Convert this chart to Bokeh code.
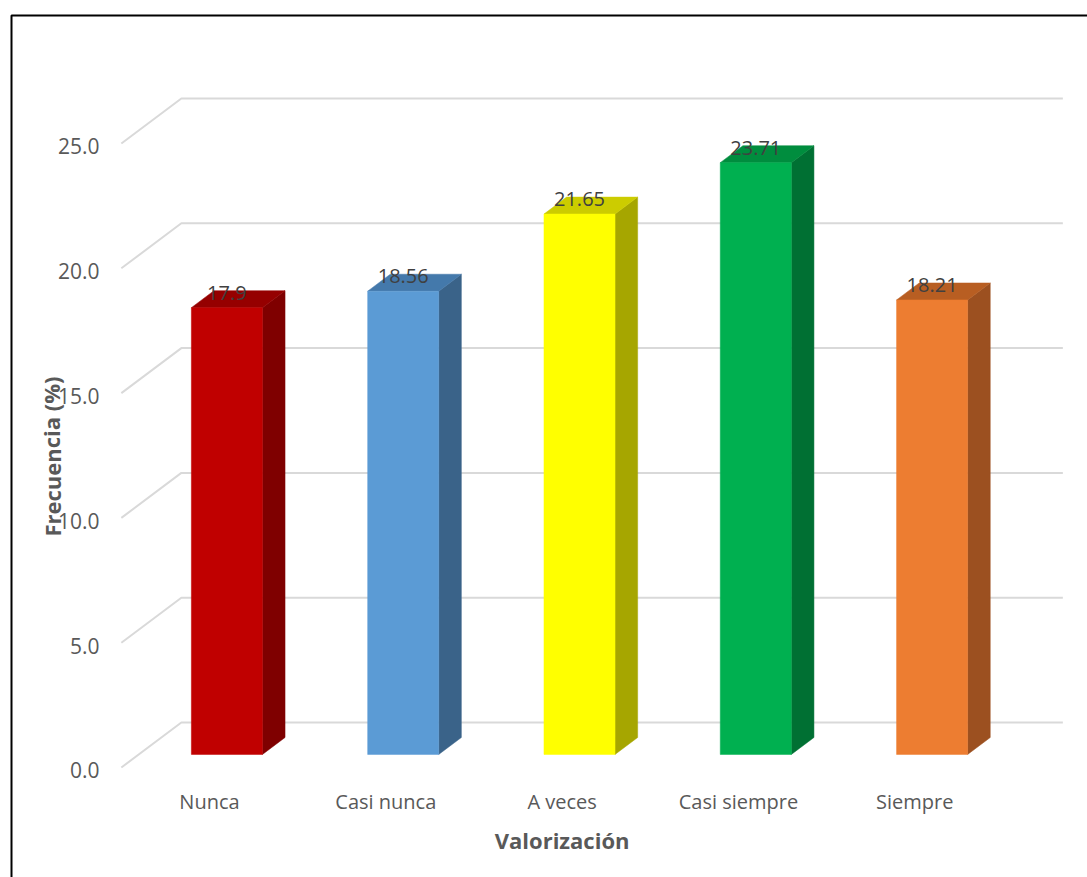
from bokeh.plotting import figure
from bokeh.models import Range1d, ColumnDataSource
from bokeh.core.properties import value
from bokeh.embed import file_html
from bokeh.resources import INLINE

# ---------------- data ----------------
categories = ["Nunca", "Casi nunca", "A veces", "Casi siempre", "Siempre"]
values = [17.9, 18.56, 21.65, 23.71, 18.21]
value_labels = ["17.9", "18.56", "21.65", "23.71", "18.21"]
y_ticks = [0, 5, 10, 15, 20, 25]
y_tick_labels = ["0.0", "5.0", "10.0", "15.0", "20.0", "25.0"]
x_title = "Valorización"
y_title = "Frecuencia (%)"

front_colors = ["#C00000", "#5B9BD5", "#FFFF00", "#00B050", "#ED7D31"]
top_colors = ["#950000", "#4479AB", "#CCCC00", "#008D3E", "#B85E22"]
side_colors = ["#7F0000", "#3A6389", "#A6A600", "#007033", "#9C5020"]

# ---------------- layout / projection (styles) ----------------
W, H = 1087, 877
PX0, PXU = 209.0, 176.3     # pixel of category 0 on the front plane, pixels per category
PY0, PYU = 767.0, 24.96     # pixel of value 0 on the front plane, pixels per unit
DX = 60.0 / PXU             # full-depth oblique shift (x, data units)
DY = 45.0 / PYU             # full-depth oblique shift (y, data units)
D0, D1 = 0.29, 0.667        # bar front / back depth fractions
HW = 0.2015                 # half bar width (category units)
XL, XR = -0.5, len(categories) - 0.5

def px_to_x(px):
    return (px - PX0) / PXU

def py_to_y(py):
    return (PY0 - py) / PYU

p = figure(width=W, height=H, output_backend="svg", toolbar_location=None,
           x_range=Range1d(px_to_x(0), px_to_x(W)),
           y_range=Range1d(py_to_y(H), py_to_y(0)),
           min_border=0, min_border_left=0, min_border_right=0,
           min_border_top=0, min_border_bottom=0)
p.axis.visible = False
p.grid.visible = False
p.outline_line_color = None
p.background_fill_color = "white"
p.border_fill_color = "white"

FONT = value("Open Sans")

# ---------------- gridlines (side wall diagonals + back wall) ----------------
gx, gy = [], []
for t in y_ticks:
    gx.append([XL, XL + DX, XR + DX])
    gy.append([t, t + DY, t + DY])
p.multi_line(xs=gx, ys=gy, line_color="#D9D9D9", line_width=2)

# ---------------- bars ----------------
fl, fr, fb, ft = [], [], [], []
top_xs, top_ys, side_xs, side_ys = [], [], [], []
w = D1 - D0
for i, v in enumerate(values):
    L = i - HW + D0 * DX
    R = i + HW + D0 * DX
    B = D0 * DY
    T = v + D0 * DY
    fl.append(L); fr.append(R); fb.append(B); ft.append(T)
    top_xs.append([L, R, R + w * DX, L + w * DX])
    top_ys.append([T, T, T + w * DY, T + w * DY])
    side_xs.append([R, R + w * DX, R + w * DX, R])
    side_ys.append([B, B + w * DY, T + w * DY, T])

p.patches(xs=side_xs, ys=side_ys, fill_color=side_colors, line_color=side_colors, line_width=0.5)
p.patches(xs=top_xs, ys=top_ys, fill_color=top_colors, line_color=top_colors, line_width=0.5)
p.quad(left=fl, right=fr, bottom=fb, top=ft, fill_color=front_colors,
       line_color=front_colors, line_width=0.5)

# data labels
lab_src = ColumnDataSource(dict(
    x=[i + D0 * DX for i in range(len(values))],
    y=[v + D1 * DY - 2.0 / PYU for v in values],
    t=value_labels))
p.text(x="x", y="y", text="t", source=lab_src, text_font=FONT, text_font_size="20px",
       text_color="#404040", text_align="center", text_baseline="alphabetic")

# y tick labels
tick_src = ColumnDataSource(dict(
    x=[px_to_x(99)] * len(y_ticks),
    y=[t - 0.12 for t in y_ticks],
    t=y_tick_labels))
p.text(x="x", y="y", text="t", source=tick_src, text_font=FONT, text_font_size="21px",
       text_color="#595959", text_align="right", text_baseline="middle")

# category labels
cat_src = ColumnDataSource(dict(
    x=list(range(len(categories))),
    y=[py_to_y(801)] * len(categories),
    t=categories))
p.text(x="x", y="y", text="t", source=cat_src, text_font=FONT, text_font_size="20px",
       text_color="#595959", text_align="center", text_baseline="middle")

# axis titles
p.text(x=[(len(categories) - 1) / 2], y=[py_to_y(839)], text=[x_title], text_font=FONT,
       text_font_size="22px", text_font_style="bold", text_color="#595959",
       text_align="center", text_baseline="middle")
p.text(x=[px_to_x(51)], y=[py_to_y(456)], text=[y_title], text_font=FONT,
       text_font_size="22px", text_font_style="bold", text_color="#595959",
       text_align="center", text_baseline="middle", angle=1.5708)

# chart border
p.line(x=[px_to_x(11), px_to_x(11), px_to_x(W + 10)],
       y=[py_to_y(H + 10), py_to_y(15), py_to_y(15)],
       line_color="black", line_width=2)

open("out.html", "w").write(file_html(p, INLINE))
